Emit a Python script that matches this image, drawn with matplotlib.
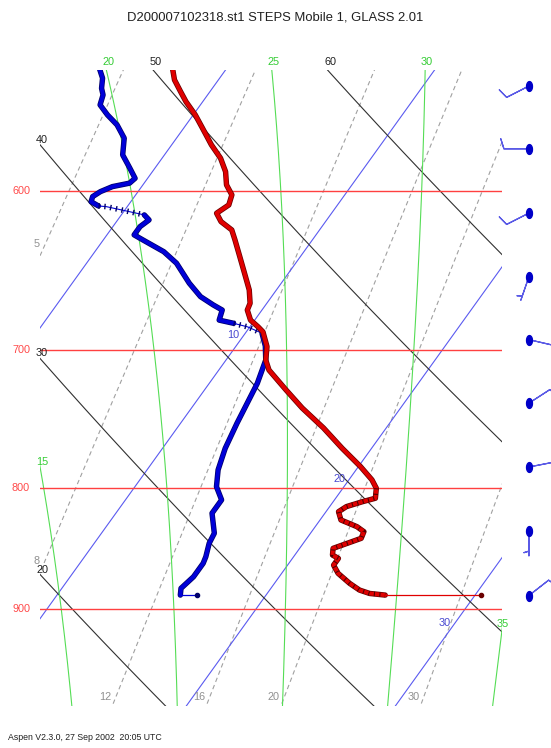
import numpy as np
import matplotlib.pyplot as plt
import matplotlib.patheffects as pe
from matplotlib.path import Path

plt.rcParams['font.family'] = ['Liberation Sans', 'DejaVu Sans']

# temperature trace (hPa, deg C)
temp_p = [532.7, 538.8, 545.0, 550.3, 557.4, 564.6, 573.8, 581.3, 588.9, 596.5,
          602.3, 608.2, 613.1, 618.1, 623.1, 629.2, 639.4, 649.8, 660.4, 669.0,
          673.4, 680.0, 684.5, 687.8, 697.7, 706.8, 713.7, 727.6, 740.5, 754.9,
          770.0, 783.7, 793.8, 800.3, 808.1, 810.8, 814.7, 818.7, 825.3, 830.7,
          834.7, 840.1, 844.2, 848.3, 853.8, 856.6, 862.2, 869.1, 877.6, 883.3,
          886.2, 887.6]
temp_t = [-2.6, -2.1, -1.4, -0.8, 0.1, 0.9, 1.9, 2.8, 3.5, 4.0,
          4.6, 4.8, 4.5, 5.0, 5.8, 6.3, 7.1, 7.9, 8.7, 9.2,
          9.3, 9.8, 10.4, 10.8, 11.5, 11.9, 12.4, 13.9, 15.3, 17.0,
          18.6, 20.1, 21.1, 21.6, 21.9, 21.4, 20.8, 20.6, 21.0, 22.0,
          22.5, 22.6, 22.1, 21.6, 21.8, 22.2, 22.2, 22.7, 23.6, 24.3,
          24.9, 25.7]

# dewpoint trace
dewp_p = [532.7, 537.9, 543.2, 546.7, 552.0, 557.4, 562.8, 570.1, 579.4, 586.9,
          592.7, 595.5, 597.5, 600.4, 603.3, 606.3, 608.8, 609.2, 614.1, 617.1,
          621.1, 626.1, 629.2, 636.4, 643.5, 656.1, 664.7, 670.1, 673.4, 680.0,
          682.1, 684.5, 688.7, 697.3, 706.8, 723.0, 737.1, 751.5, 770.0, 786.2,
          799.1, 809.4, 819.9, 836.0, 844.2, 855.2, 860.7, 872.0, 881.8, 887.6]
dewp_t = [-6.1, -5.6, -5.3, -5.0, -4.8, -4.1, -3.3, -2.5, -2.0, -1.2,
          -0.6, -0.7, -1.4, -1.8, -2.0, -1.9, -1.4, -1.0, 1.1, 1.5,
          1.3, 1.3, 1.9, 3.3, 4.3, 5.6, 6.6, 7.5, 8.1, 8.3,
          9.1, 9.9, 10.8, 11.4, 11.9, 12.3, 12.5, 12.7, 13.0, 13.4,
          13.9, 14.6, 14.6, 15.4, 15.5, 15.8, 15.9, 15.9, 15.7, 15.9]
# stretches with only a few samples (index ranges)
dewp_sparse = [(16, 18), (30, 32)]
temp_sparse_from = 33

# surface observation
sfc_p = 887.6
sfc_t = 30.3
sfc_td = 16.7

# winds
wind_p = [542, 576, 613, 652, 693, 737, 784, 834, 888]
wind_dir = [243, 270, 243, 199, 103, 57, 79, 180, 52]
wind_spd = [10, 10, 10, 5, 10, 10, 10, 5, 10]

# background lines
isobars = [600, 700, 800, 900]
isotherms = [-10, 0, 10, 20, 30, 40]
isotherm_labels = [10, 20, 30]
isotherm_label_p = [690, 793, 912]
dry_theta = [20, 30, 40, 50, 60]
moist_thw = [15, 20, 25, 30, 35]
mix_ratio = [5, 8, 12, 16, 20, 30]

P_TOP, P_BOT = 533.4, 988.3
X_LEFT, X_RIGHT = 9.68, 31.78
SKEW = 35.5
KAPPA = 0.288
FS = 7.8


def skew(t, p):
    return np.asarray(t, float) + SKEW * np.log(900.0 / np.asarray(p, float))


def moist_adiabat(thw, pres):
    rd, cp, lv, eps = 287.04, 996.0, 2.501e6, 0.622

    def rate(tk, pp):
        es = 6.112 * np.exp(17.67 * (tk - 273.15) / (tk - 29.65))
        rs = eps * es / pp
        return (rd * tk + lv * rs) / (pp * (cp + lv * lv * rs * eps / (rd * tk * tk)))

    t = thw + 273.15
    out = [t]
    for p0, p1 in zip(pres[:-1], pres[1:]):
        dp = p1 - p0
        k1 = rate(t, p0)
        t = t + dp * rate(t + 0.5 * dp * k1, p0 + 0.5 * dp)
        out.append(t)
    return np.array(out) - 273.15


def mixing_dewpoint(w, p):
    e = (w / 1000.0) * p / (0.622 + w / 1000.0)
    a = np.log(e / 6.112)
    return 243.5 * a / (17.67 - a)


fig = plt.figure(figsize=(5.51, 7.48), dpi=100)
ax = fig.add_axes([40 / 551, 42 / 748, 462 / 551, 636.5 / 748])
ax.set_yscale('log')
ax.set_ylim(P_BOT, P_TOP)
ax.set_xlim(X_LEFT, X_RIGHT)
ax.axis('off')

pgrid = np.linspace(1000, 520, 300)


def inside(x, p):
    return np.flatnonzero((x >= X_LEFT) & (x <= X_RIGHT) & (p >= P_TOP) & (p <= P_BOT))


def label_top_end(x, p, text, color):
    idx = inside(x, p)
    if len(idx) == 0:
        return
    i = idx[np.argmin(p[idx])]
    if p[i] < P_TOP * 1.01:
        xy, off = (x[i], P_TOP), (1, 1.5)
    elif x[i] < X_LEFT + 1:
        xy, off = (X_LEFT, p[i]), (1.5, 1)
    else:
        xy, off = (X_RIGHT, p[i]), (0.5, 2)
    ax.annotate(text, xy, xytext=off, textcoords='offset points', ha='center',
                va='bottom', color=color, fontsize=FS, annotation_clip=False)


# mixing ratio lines
for w in mix_ratio:
    x = skew(mixing_dewpoint(w, pgrid), pgrid)
    ax.plot(x, pgrid, color='#a0a0a0', lw=0.8, ls=(0, (4, 3)))
    idx = inside(x, pgrid)
    i = idx[np.argmax(pgrid[idx])]
    off = (-1, 2) if pgrid[i] > P_BOT * 0.99 else (-0.5, 5)
    ax.annotate(str(w), (x[i], pgrid[i]), xytext=off, textcoords='offset points',
                ha='right', va='bottom', color='#909090', fontsize=FS, annotation_clip=False)

# isotherms
for t in isotherms:
    ax.plot(skew(np.full_like(pgrid, t), pgrid), pgrid, color='#5a5af0', lw=0.8)
for t, pl in zip(isotherm_labels, isotherm_label_p):
    ax.annotate(str(t), (skew(t, pl), pl), xytext=(-3, 0), textcoords='offset points',
                ha='right', va='center', color='#4848d0', fontsize=FS)

# dry adiabats
for th in dry_theta:
    tt = (th + 273.15) * (pgrid / 1000.0) ** KAPPA - 273.15
    x = skew(tt, pgrid)
    ax.plot(x, pgrid, color='#303030', lw=0.8)
    label_top_end(x, pgrid, str(th), '#202020')

# moist adiabats
for thw in moist_thw:
    x = skew(moist_adiabat(thw, pgrid), pgrid)
    ax.plot(x, pgrid, color='#55dd55', lw=0.8)
    label_top_end(x, pgrid, str(thw), '#33cc33')

# isobars
for p in isobars:
    ax.axhline(p, color='#ff4040', lw=1.0)
    ax.text(-0.041, p, str(p), transform=ax.get_yaxis_transform(), ha='center',
            va='center', color='#ff4a4a', fontsize=FS)


def draw_trace(p, t, color, dark, sparse=()):
    p = np.asarray(p, float)
    x = skew(t, p)
    thick = dict(color=color, lw=2.8, solid_capstyle='round', solid_joinstyle='round',
                 path_effects=[pe.Stroke(linewidth=3.9, foreground=dark), pe.Normal()])
    start = 0
    for a, b in sparse:
        ax.plot(x[start:a + 1], p[start:a + 1], **thick)
        ax.plot(x[a:b + 1], p[a:b + 1], color=color, lw=0.8)
        ax.plot(x[a:b + 1], p[a:b + 1], color=dark, lw=4, ls=(0, (0.25, 0.8)))
        start = b
    ax.plot(x[start:], p[start:], **thick)
    return x, p


# dewpoint then temperature
xd, pd_ = draw_trace(dewp_p, dewp_t, '#0000d8', '#00006a', dewp_sparse)
ax.plot([xd[-1], skew(sfc_td, sfc_p)], [sfc_p, sfc_p], color='#0000d8', lw=0.9)
ax.plot(skew(sfc_td, sfc_p), sfc_p, 'o', color='#00006a', ms=3)

xt, pt_ = draw_trace(temp_p, temp_t, '#e00000', '#6a0000')
ax.plot(xt[temp_sparse_from:], pt_[temp_sparse_from:], color='#500000', lw=3.2,
        ls=(0, (0.25, 1.0)))
ax.plot([xt[-1], skew(sfc_t, sfc_p)], [sfc_p, sfc_p], color='#e00000', lw=0.9)
ax.plot(skew(sfc_t, sfc_p), sfc_p, 'o', color='#6a0000', ms=3)

# wind barbs column
axw = fig.add_axes([505 / 551, 42 / 748, 46 / 551, 636.5 / 748])
axw.set_yscale('log')
axw.set_ylim(P_BOT, P_TOP)
axw.set_xlim(0, 1)
axw.axis('off')
wd = np.radians(wind_dir)
spd = np.asarray(wind_spd, float)
u = -spd * np.sin(wd)
v = -spd * np.cos(wd)
xw = np.full(len(wind_p), 0.52)
axw.barbs(xw, wind_p, u, v, length=6, color='#5a5ae6', linewidth=0.9,
          sizes=dict(emptybarb=0), clip_on=False)
tt = np.linspace(0, 2 * np.pi, 40)
dot = Path(np.column_stack([0.6 * np.cos(tt), np.sin(tt)]))
axw.scatter(xw, wind_p, marker=dot, s=50, color='#0000c8', zorder=3, clip_on=False)

fig.text(0.5, 1 - 18 / 748, 'D200007102318.st1 STEPS Mobile 1, GLASS 2.01',
         ha='center', va='center', fontsize=9.4, color='#202020')
fig.text(8 / 551, 1 - 738 / 748, 'Aspen V2.3.0, 27 Sep 2002  20:05 UTC',
         ha='left', va='center', fontsize=6.3, color='#202020')

fig.savefig('out.png', dpi=100)
